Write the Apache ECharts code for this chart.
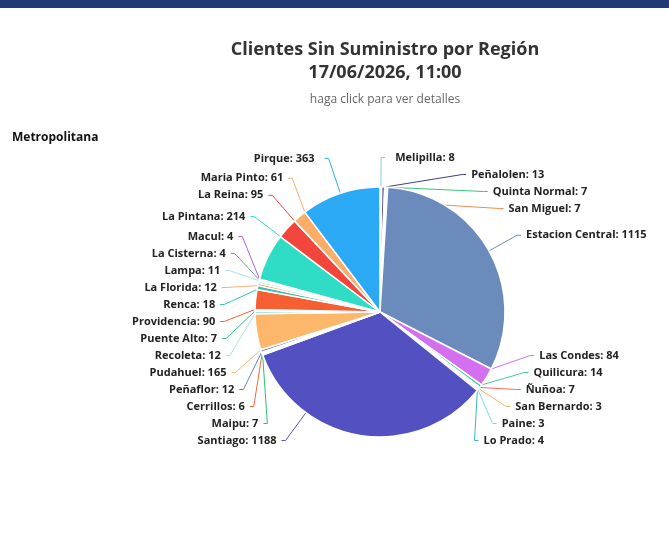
<!DOCTYPE html>
<html>
<head>
<meta charset="utf-8">
<script src="https://cdn.jsdelivr.net/npm/echarts@6/dist/echarts.min.js"></script>
<style>
  html, body { margin: 0; padding: 0; background: #fff; }
  .bar { height: 8px; background: #1f3a75; }
  #chart { width: 669px; height: 441px; }
</style>
</head>
<body>
<div class="bar"></div>
<div id="chart"></div>
<script>
// comunas en orden horario desde arriba
const comunas = ['Melipilla', 'Peñalolen', 'Quinta Normal', 'San Miguel', 'Estacion Central',
  'Las Condes', 'Quilicura', 'Ñuñoa', 'San Bernardo', 'Paine', 'Lo Prado', 'Santiago',
  'Maipu', 'Cerrillos', 'Peñaflor', 'Pudahuel', 'Recoleta', 'Puente Alto', 'Providencia',
  'Renca', 'La Florida', 'Lampa', 'La Cisterna', 'Macul', 'La Pintana', 'La Reina',
  'Maria Pinto', 'Pirque']
const clientes = [8, 13, 7, 7, 1115, 84, 14, 7, 3, 3, 4, 1188, 7, 6, 12, 165, 12, 7, 90,
  18, 12, 11, 4, 4, 214, 95, 61, 363]
const colores = ['#86cbe6', '#3d3d8c', '#3cc47c', '#f08c4a', '#6b8bbd', '#d46ff0', '#3ec9a7',
  '#f26b5b', '#f7b267', '#7fd8e0', '#3bb3c9', '#5350c1', '#2fbf71', '#ee6a3c', '#6a7fae',
  '#fdb76a', '#a6e3ea', '#2ec27e', '#f65f32', '#35c3a8', '#f5b079', '#a8e0ea', '#8391a8',
  '#b461e0', '#2fdcc6', '#f2463c', '#f9ad68', '#2ba9f5']

const font = '"Open Sans", "Noto Sans", sans-serif'

// centro y radio del pie (coordenadas del chart)
const cx = 380, cy = 304, radio = 125
const radioTexto = 165  // las etiquetas desplazadas se alinean en un circulo
const pad = 5

// angulos de cada tajada (grados, horario desde arriba)
const total = clientes.reduce((a, b) => a + b, 0)
let acum = 0
const angulos = clientes.map(v => {
  let a0 = acum / total * 360
  acum += v
  return [a0, acum / total * 360]
})

// punto de la tajada mas cercano a (px, py)
let puntoTajada = (i, px, py) => {
  let dx = px - cx, dy = py - cy
  let th = Math.atan2(dx, -dy) * 180 / Math.PI
  if (th < 0) th += 360
  let [a0, a1] = angulos[i]
  let dentro = th >= a0 && th <= a1
  let e = th
  if (!dentro) {
    let d0 = Math.min(Math.abs(th - a0), 360 - Math.abs(th - a0))
    let d1 = Math.min(Math.abs(th - a1), 360 - Math.abs(th - a1))
    e = d0 < d1 ? a0 : a1
  }
  let rad = e * Math.PI / 180
  let ux = Math.sin(rad), uy = -Math.cos(rad)
  let t = dentro ? radio : Math.max(0, Math.min(radio, dx * ux + dy * uy))
  return [cx + t * ux, cy + t * uy]
}

// etiquetas desplazadas: x sobre un circulo, linea al punto mas cercano
let circleLabels = (p) => {
  let r = p.labelRect
  let y = r.y + r.height / 2
  let dy = y - cy
  if (Math.abs(dy) >= 150) return
  let left = r.x + r.width / 2 < cx
  let dir = left ? -1 : 1
  let x = cx + dir * Math.sqrt(radioTexto * radioTexto - dy * dy) - dir * pad
  let p1 = [x - dir * 4, y]
  return {
    x: x,
    y: y,
    align: left ? 'right' : 'left',
    verticalAlign: 'middle',
    labelLinePoints: [puntoTajada(p.dataIndex, p1[0], p1[1]), p1, [x, y]]
  }
}

let option = {
  title: [
    {
      text: 'Clientes Sin Suministro por Región\n17/06/2026, 11:00',
      subtext: 'haga click para ver detalles',
      left: 380,
      textAlign: 'center',
      top: 25,
      itemGap: 10,
      textStyle: { fontFamily: font, fontSize: 18, fontWeight: 'bold', color: '#333', lineHeight: 23 },
      subtextStyle: { fontFamily: font, fontSize: 12, color: '#666' }
    },
    {
      text: 'Metropolitana',
      left: 7,
      top: 119,
      textStyle: { fontFamily: font, fontSize: 12, fontWeight: 'bold', color: '#111' }
    }
  ],
  color: colores,
  series: [
    {
      type: 'pie',
      top: 141,
      bottom: 0,
      center: [cx, cy - 141],
      radius: radio,
      startAngle: 90,
      itemStyle: { borderColor: '#fff', borderWidth: 1.5 },
      label: {
        formatter: '{b}: {c}',
        fontFamily: font,
        fontSize: 11,
        fontWeight: 'bold',
        color: '#222',
        lineHeight: 15,
        padding: [0, pad]
      },
      labelLine: { length: 37, length2: 4 },
      labelLayout: circleLabels,
      data: comunas.map((n, i) => ({ name: n, value: clientes[i] }))
    }
  ]
}

let chart = echarts.init(document.getElementById('chart'))
chart.setOption(option)
</script>
</body>
</html>
